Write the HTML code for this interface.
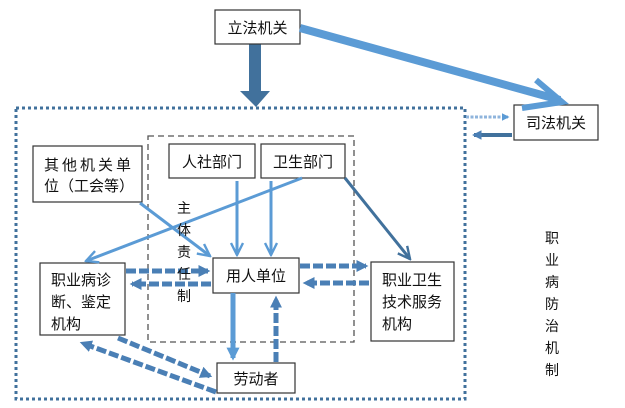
<!DOCTYPE html>
<html><head><meta charset="utf-8"><style>
html,body{margin:0;padding:0;background:#fff;width:625px;height:408px;overflow:hidden}
svg text{font-family:"Liberation Sans","Noto Sans CJK SC",sans-serif;fill:#111}
</style></head><body>
<svg width="625" height="408" viewBox="0 0 625 408" xmlns="http://www.w3.org/2000/svg">
<defs>
<marker id="vb" viewBox="0 0 10 10" refX="9" refY="5" markerWidth="5" markerHeight="5" orient="auto"><path d="M1,1 L9,5 L1,9" fill="none" stroke="#5b9bd5" stroke-width="1.6"/></marker>
<marker id="vd" viewBox="0 0 10 10" refX="9" refY="5" markerWidth="5" markerHeight="5" orient="auto"><path d="M1,1 L9,5 L1,9" fill="none" stroke="#41719c" stroke-width="1.6"/></marker>
<marker id="td" viewBox="0 0 10 10" refX="8" refY="5" markerWidth="2.4" markerHeight="2.4" orient="auto"><path d="M0,0 L10,5 L0,10 z" fill="#4a7fb5"/></marker>
<marker id="tb" viewBox="0 0 10 10" refX="8" refY="5" markerWidth="2.6" markerHeight="2.6" orient="auto"><path d="M0,0 L10,5 L0,10 z" fill="#5b9bd5"/></marker>
</defs>
<!-- outer dotted -->
<rect x="16" y="108" width="449" height="291" fill="none" stroke="#41719c" stroke-width="3" stroke-dasharray="3 3"/>
<!-- inner dashed -->
<rect x="148" y="136" width="206" height="206" fill="none" stroke="#555" stroke-width="1.3" stroke-dasharray="6 4"/>
<!-- big arrows -->
<rect x="249" y="44" width="12" height="49" fill="#41719c"/>
<path d="M240,91 L270,91 L256,107 Z" fill="#41719c"/>
<!-- 司法 arrows -->
<line x1="466" y1="117" x2="508" y2="117" stroke="#8fb4dc" stroke-width="3" stroke-dasharray="3 1.5" marker-end="url(#tb)"/>
<line x1="512" y1="135" x2="474" y2="135" stroke="#41719c" stroke-width="4" marker-end="url(#td)"/>
<!-- boxes -->
<g fill="#fff" stroke="#333" stroke-width="1.2">
<rect x="215" y="10" width="85" height="34"/>
<rect x="514" y="105" width="84" height="35"/>
<rect x="33" y="146" width="109" height="56"/>
<rect x="169" y="144" width="86" height="34"/>
<rect x="261" y="144" width="84" height="34"/>
<rect x="213" y="258" width="86" height="35"/>
<rect x="40" y="263" width="85" height="72"/>
<rect x="371" y="262" width="83" height="79"/>
<rect x="217" y="363" width="78" height="30"/>
</g>
<line x1="300" y1="28" x2="560" y2="100" stroke="#5b9bd5" stroke-width="8"/>
<path d="M536,80 L562,102 L522,108" fill="none" stroke="#5b9bd5" stroke-width="6" stroke-linejoin="miter"/>
<!-- connectors -->
<line x1="140" y1="203" x2="210" y2="256" stroke="#5b9bd5" stroke-width="3" marker-end="url(#vb)"/>
<line x1="302" y1="178" x2="86" y2="261" stroke="#5b9bd5" stroke-width="3" marker-end="url(#vb)"/>
<line x1="237" y1="181" x2="237" y2="255" stroke="#5b9bd5" stroke-width="3" marker-end="url(#vb)"/>
<line x1="271" y1="181" x2="271" y2="255" stroke="#5b9bd5" stroke-width="3" marker-end="url(#vb)"/>
<line x1="345" y1="178" x2="410" y2="259" stroke="#41719c" stroke-width="3" marker-end="url(#vd)"/>
<!-- dashed thick arrows -->
<g stroke="#4a7fb5" stroke-width="5" stroke-dasharray="10 3" fill="none">
<line x1="126" y1="271" x2="208" y2="271" marker-end="url(#td)"/>
<line x1="211" y1="284" x2="132" y2="284" marker-end="url(#td)"/>
<line x1="300" y1="266" x2="366" y2="266" marker-end="url(#td)"/>
<line x1="369" y1="283" x2="305" y2="283" marker-end="url(#td)"/>
<line x1="276" y1="362" x2="276" y2="298" marker-end="url(#td)"/>
<line x1="118" y1="338" x2="210" y2="376" marker-end="url(#td)"/>
<line x1="216" y1="392" x2="82" y2="343" marker-end="url(#td)"/>
</g>
<line x1="233" y1="293" x2="233" y2="358" stroke="#5b9bd5" stroke-width="5" marker-end="url(#tb)"/>
<!-- text -->
<g font-size="15">
<text x="257.5" y="33" text-anchor="middle">立法机关</text>
<text x="556" y="128" text-anchor="middle">司法机关</text>
<text x="44" y="170" letter-spacing="3">其他机关单</text>
<text x="44" y="191">位（工会等）</text>
<text x="212" y="167" text-anchor="middle">人社部门</text>
<text x="303" y="167" text-anchor="middle">卫生部门</text>
<text x="256" y="281" text-anchor="middle">用人单位</text>
<text x="51" y="285">职业病诊</text>
<text x="51" y="307">断、鉴定</text>
<text x="51" y="329">机构</text>
<text x="382" y="285">职业卫生</text>
<text x="382" y="307">技术服务</text>
<text x="382" y="329">机构</text>
<text x="256" y="384" text-anchor="middle">劳动者</text>
</g>
<g font-size="14" text-anchor="middle">
<text x="184" y="213">主</text><text x="184" y="235">体</text><text x="184" y="257">责</text><text x="184" y="279">任</text><text x="184" y="301">制</text>
<text x="552" y="243">职</text><text x="552" y="265">业</text><text x="552" y="287">病</text><text x="552" y="309">防</text><text x="552" y="331">治</text><text x="552" y="353">机</text><text x="552" y="375">制</text>
</g>
</svg>
</body></html>
